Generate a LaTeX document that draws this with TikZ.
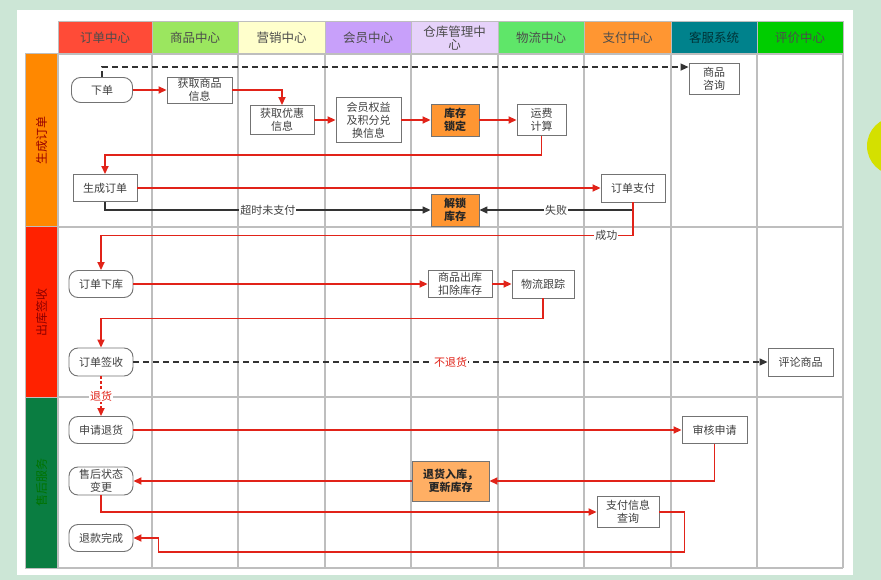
\documentclass[tikz,border=0pt]{standalone}
\usepackage{fontspec}
\setmainfont{Noto Sans CJK SC}
\usetikzlibrary{arrows.meta}
\definecolor{bgg}{RGB}{204,230,214}
\definecolor{hred}{RGB}{255,75,55}
\definecolor{hgrn}{RGB}{155,230,95}
\definecolor{hyel}{RGB}{255,255,204}
\definecolor{hpur}{RGB}{200,160,250}
\definecolor{hlav}{RGB}{230,210,250}
\definecolor{hlgr}{RGB}{95,230,105}
\definecolor{hora}{RGB}{255,150,50}
\definecolor{htea}{RGB}{0,130,140}
\definecolor{hgre}{RGB}{0,205,0}
\definecolor{lora}{RGB}{255,136,0}
\definecolor{lred}{RGB}{255,34,0}
\definecolor{lgrn}{RGB}{10,125,65}
\definecolor{linered}{RGB}{225,35,25}
\definecolor{lockor}{RGB}{255,150,50}
\definecolor{retor}{RGB}{255,175,100}
\definecolor{gridc}{RGB}{190,190,190}
\definecolor{sunc}{RGB}{212,224,0}

\begin{document}
\begin{tikzpicture}[x=1pt, y=-1pt, >={Triangle[length=8pt,width=7pt]},
	every node/.style={font=\fontsize{11}{13}\selectfont, text=black!75},
	box/.style={draw=black!55, fill=white, line width=0.9pt, align=center, inner sep=1pt, minimum width=64pt, minimum height=27pt},
	rbox/.style={box, rounded corners=9pt},
	obox/.style={box, fill=lockor, text=black!85, font=\fontsize{11}{13}\selectfont\bfseries, minimum width=48pt, minimum height=32pt},
	hdr/.style={draw=gridc, line width=1pt, align=center, minimum height=32pt, inner sep=1pt, font=\fontsize{12.5}{13}\selectfont},
	lane/.style={draw=gridc, line width=1pt, rotate=90, minimum height=33pt, font=\fontsize{12}{13}\selectfont},
	grid/.style={draw=gridc, line width=1.2pt},
	rl/.style={draw=linered, line width=1.7pt},
	bl/.style={draw=black!80, line width=1.4pt},
	lbl/.style={fill=white, inner sep=1pt}]
	\useasboundingbox (0,0) rectangle (881,580);
	\fill[bgg] (0,0) rectangle (881,580);
	\begin{scope}
		\clip (0,0) rectangle (881,580);
		\fill[sunc] (896,146) circle (29);
	\end{scope}
	\fill[white] (17,10) rectangle (853,575);
	\foreach \i/\x/\w/\c/\tc/\t in {1/105/94/hred/black!70/订单中心, 2/195/86/hgrn/black!70/商品中心, 3/281.5/87/hyel/black!70/营销中心, 4/368/86/hpur/black!70/会员中心, 5/454.5/87/hlav/black!70/{仓库管理中\\心}, 6/541/86/hlgr/black!70/物流中心, 7/627.5/87/hora/black!70/支付中心, 8/714/86/htea/{black!60!htea}/客服系统, 9/800/86/hgre/black!70/评价中心} {
		\node[hdr, fill=\c, text=\tc, minimum width=\w] (h\i) at (\x,38) {\t};
	}
	\foreach \i/\a/\b/\c/\tc/\t in {1/54/227/lora/{red!60!black}/生成订单, 2/227/397/lred/{red!55!black}/出库签收, 3/397/568/lgrn/{green!45!black}/售后服务} {
		\node[lane, fill=\c, text=\tc, minimum width=\b-\a] (l\i) at (41.5,{(\a+\b)/2}) {\t};
	}
	\foreach \x in {58,152,238,325,411,498,584,671,757,843} {
		\draw[grid] (\x,54) -- (\x,568);
	}
	\foreach \y in {54,227,397,568} {
		\draw[grid] (58,\y) -- (843,\y);
	}

	\node[rbox, minimum width=61pt, minimum height=25pt] (xd) at (102,90) {下单};
	\node[box, minimum width=65pt, minimum height=26pt] (hq) at (199.5,90) {获取商品\\信息};
	\node[box, minimum height=29pt] (yh) at (282,120) {获取优惠\\信息};
	\node[box, minimum width=65pt, minimum height=45pt] (hy) at (368.5,120) {会员权益\\及积分兑\\换信息};
	\node[obox] (sd) at (455,120) {库存\\锁定};
	\node[box, minimum width=49pt, minimum height=31pt] (yf) at (541.5,120) {运费\\计算};
	\node[box, minimum width=50pt, minimum height=31pt] (zx) at (714,78.5) {商品\\咨询};
	\node[box] (sc) at (105,188) {生成订单};
	\node[box, minimum height=28pt] (zf) at (633,188) {订单支付};
	\node[obox] (js) at (455,210) {解锁\\库存};

	\node[rbox] (dk) at (101,284) {订单下库};
	\node[box] (ck) at (460,284) {商品出库\\扣除库存};
	\node[box, minimum width=62pt, minimum height=28pt] (wl) at (543,284) {物流跟踪};
	\node[rbox, minimum height=28pt] (qs) at (101,362) {订单签收};
	\node[box, minimum width=65pt, minimum height=28pt] (pl) at (800.5,362) {评论商品};

	\node[rbox] (sq) at (101,430) {申请退货};
	\node[box, minimum width=65pt] (sh) at (714.5,430) {审核申请};
	\node[rbox, minimum height=28pt] (zt) at (101,481) {售后状态\\变更};
	\node[box, fill=retor, text=black!85, font=\fontsize{11}{13}\selectfont\bfseries, minimum width=77pt, minimum height=40pt] (th) at (450.5,481) {退货入库，\\更新库存};
	\node[box, minimum width=62pt, minimum height=31pt] (zc) at (628,512) {支付信息\\查询};
	\node[rbox] (tk) at (101,538) {退款完成};

	\draw[bl, ->, dash pattern=on 6pt off 4pt] (xd.north) |- ([yshift=-4.5pt]zx.north west);
	\draw[rl, ->] (xd) -- (hq);
	\draw[rl, ->] (hq.east) -| (yh.north);
	\draw[rl, ->] (yh) -- (hy);
	\draw[rl, ->] (hy) -- (sd);
	\draw[rl, ->] (sd) -- (yf);
	\draw[rl, ->] (yf.south) -- ++(0,19) -| (sc.north);
	\draw[rl, ->] (sc) -- (zf);
	\draw[bl, ->] (sc.south) |- node[lbl, pos=0.75] {超时未支付} (js.west);
	\draw[bl, ->] (zf.south) |- node[lbl, pos=0.75] {失败} (js.east);
	\draw[rl, ->] (zf.south) -- ++(0,33) -| node[lbl, pos=0.025] {成功} (dk.north);

	\draw[rl, ->] (dk) -- (ck);
	\draw[rl, ->] (ck) -- (wl);
	\draw[rl, ->] (wl.south) -- ++(0,20) -| (qs.north);
	\draw[bl, ->, dash pattern=on 6pt off 4pt] (qs) -- node[lbl, text=linered] {不退货} (pl);
	\draw[rl, ->, dash pattern=on 3pt off 2pt] (qs) -- node[lbl, text=linered] {退货} (sq);

	\draw[rl, ->] (sq) -- (sh);
	\draw[rl, ->] (sh.south) |- (th.east);
	\draw[rl, ->] (th) -- (zt);
	\draw[rl, ->] (zt.south) |- (zc.west);
	\draw[rl, ->] (zc.east) -- ++(25,0) -- ++(0,40) -| ([xshift=25pt]tk.east) -- (tk.east);
\end{tikzpicture}
\end{document}
